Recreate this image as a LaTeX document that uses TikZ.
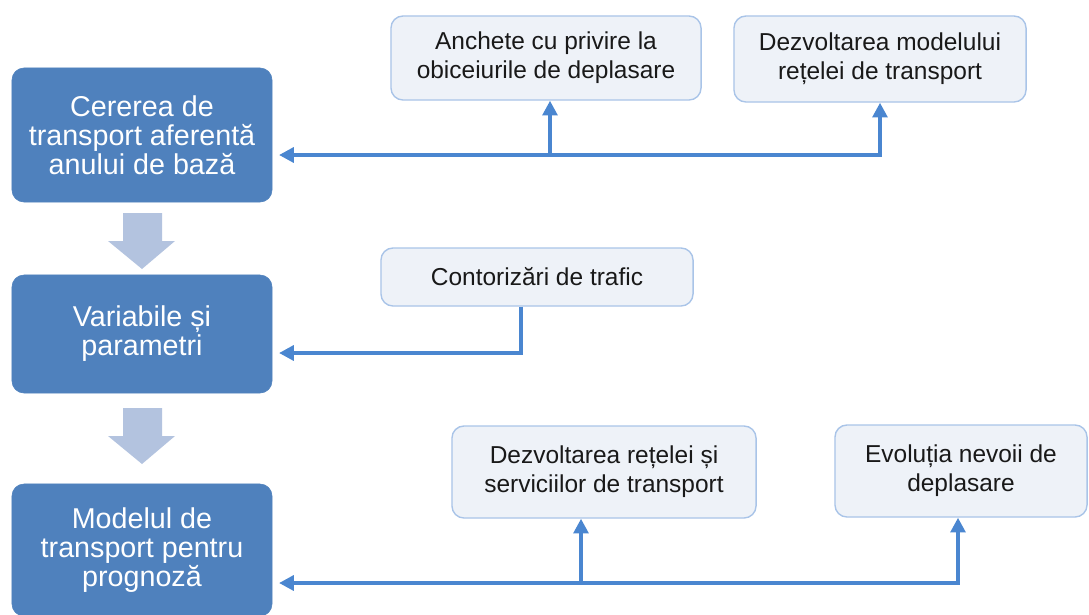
\documentclass[tikz,border=0pt]{standalone}
\usepackage{fontspec}
\setmainfont{Liberation Sans}
\usetikzlibrary{arrows.meta}

\definecolor{bleuetape}{HTML}{4F81BD}
\definecolor{fondclair}{HTML}{EEF2F8}
\definecolor{bordclair}{HTML}{A9C4E8}
\definecolor{bleulien}{HTML}{4A86D0}
\definecolor{flechebloc}{HTML}{B3C3DF}

\tikzset{
  etape/.style={draw=bleuetape, fill=bleuetape, rounded corners=0.3cm, text=white,
    align=center, minimum width=6.5cm, inner sep=0pt,
    font=\fontsize{20.4}{20.6}\selectfont},
  sursa/.style={draw=bordclair, line width=1pt, fill=fondclair, rounded corners=0.3cm,
    text=black!90, align=center, inner sep=0pt,
    font=\fontsize{17.4}{20.6}\selectfont},
  lien/.style={draw=bleulien, line width=2.8pt},
  >={Triangle[length=10.5pt,width=10.5pt]}
}

\begin{document}
\begin{tikzpicture}[x=0.025cm, y=-0.025cm]
    \useasboundingbox (0,0) rectangle (1089,614);

    % Etapele principale
    \node[etape, minimum height=3.35cm] (cerere) at (142,135) {Cererea de\\transport aferentă\\anului de bază};
    \node[etape, minimum height=2.95cm] (variabile) at (142,334) {Variabile și\\parametri};
    \node[etape, minimum height=3.3cm] (model) at (142,550) {Modelul de\\transport pentru\\prognoză};

    % Sagetile dintre etape
    \foreach \y in {213,408}
      \fill[flechebloc] (123,\y) -- (162,\y) -- (162,\y+28) -- (175,\y+28) -- (142,\y+56)
        -- (108,\y+28) -- (123,\y+28) -- cycle;

    % Sursele de date
    \node[sursa, minimum width=7.75cm, minimum height=2.1cm] (anchete) at (546,58) {Anchete cu privire la\\obiceiurile de deplasare};
    \node[sursa, minimum width=7.3cm, minimum height=2.15cm] (dezvmodel) at (880,59) {Dezvoltarea modelului\\rețelei de transport};
    \node[sursa, minimum width=7.8cm, minimum height=1.45cm] (contor) at (537,277) {Contorizări de trafic};
    \node[sursa, minimum width=7.6cm, minimum height=2.3cm] (dezvretea) at (604,472) {Dezvoltarea rețelei și\\serviciilor de transport};
    \node[sursa, minimum width=6.3cm, minimum height=2.3cm] (evolutie) at (961,471) {Evoluția nevoii de\\deplasare};

    % Legaturi
    \coordinate (intrareA) at (279,155);
    \coordinate (ramA) at (550,155);
    \draw[lien, <->] (dezvmodel.south) |- (intrareA);
    \draw[lien, ->] (ramA) -- (ramA |- anchete.south);

    \coordinate (intrareB) at (279,353);
    \coordinate (ramB) at (521,353);
    \draw[lien, ->] (ramB |- contor.south) |- (intrareB);

    \coordinate (intrareC) at (279,583);
    \coordinate (ramC) at (581,583);
    \coordinate (ramD) at (958,583);
    \draw[lien, <->] (ramD |- evolutie.south) |- (intrareC);
    \draw[lien, ->] (ramC) -- (ramC |- dezvretea.south);
\end{tikzpicture}
\end{document}
